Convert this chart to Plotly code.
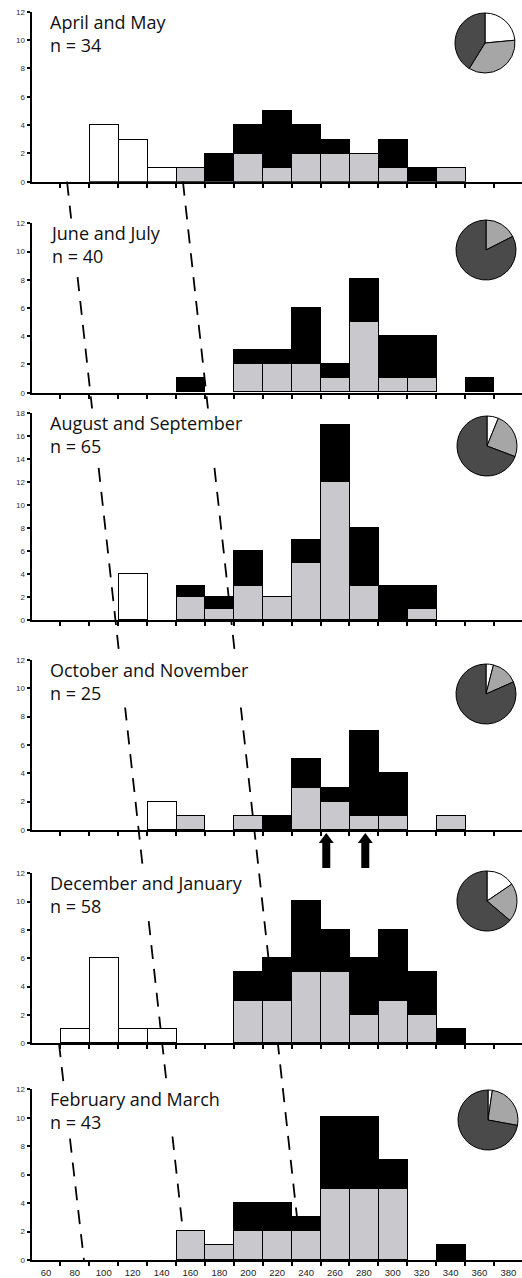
import plotly.graph_objects as go

W, H = 522, 1278

# Body-length classes (bin centres) and bin edges
bins = list(range(60, 381, 20))
edges = list(range(70, 371, 20))

titles = ["April and May", "June and July", "August and September",
          "October and November", "December and January", "February and March"]
n_obs = [34, 40, 65, 25, 58, 43]

#             60 80 100 120 140 160 180 200 220 240 260 280 300 320 340 360 380
white_am = [0, 0, 4, 3, 1, 0, 0, 0, 0, 0, 0, 0, 0, 0, 0, 0, 0]
grey_am  = [0, 0, 0, 0, 0, 1, 0, 2, 1, 2, 2, 2, 1, 0, 1, 0, 0]
black_am = [0, 0, 0, 0, 0, 0, 2, 2, 4, 2, 1, 0, 2, 1, 0, 0, 0]

white_jj = [0, 0, 0, 0, 0, 0, 0, 0, 0, 0, 0, 0, 0, 0, 0, 0, 0]
grey_jj  = [0, 0, 0, 0, 0, 0, 0, 2, 2, 2, 1, 5, 1, 1, 0, 0, 0]
black_jj = [0, 0, 0, 0, 0, 1, 0, 1, 1, 4, 1, 3, 3, 3, 0, 1, 0]

white_as = [0, 0, 0, 4, 0, 0, 0, 0, 0, 0, 0, 0, 0, 0, 0, 0, 0]
grey_as  = [0, 0, 0, 0, 0, 2, 1, 3, 2, 5, 12, 3, 0, 1, 0, 0, 0]
black_as = [0, 0, 0, 0, 0, 1, 1, 3, 0, 2, 5, 5, 3, 2, 0, 0, 0]

white_on = [0, 0, 0, 0, 2, 0, 0, 0, 0, 0, 0, 0, 0, 0, 0, 0, 0]
grey_on  = [0, 0, 0, 0, 0, 1, 0, 1, 0, 3, 2, 1, 1, 0, 1, 0, 0]
black_on = [0, 0, 0, 0, 0, 0, 0, 0, 1, 2, 1, 6, 3, 0, 0, 0, 0]

white_dj = [0, 1, 6, 1, 1, 0, 0, 0, 0, 0, 0, 0, 0, 0, 0, 0, 0]
grey_dj  = [0, 0, 0, 0, 0, 0, 0, 3, 3, 5, 5, 2, 3, 2, 0, 0, 0]
black_dj = [0, 0, 0, 0, 0, 0, 0, 2, 3, 5, 3, 4, 5, 3, 1, 0, 0]

white_fm = [0, 0, 0, 0, 0, 0, 0, 0, 0, 0, 0, 0, 0, 0, 0, 0, 0]
grey_fm  = [0, 0, 0, 0, 0, 2, 1, 2, 2, 2, 5, 5, 5, 0, 0, 0, 0]
black_fm = [0, 0, 0, 0, 0, 0, 0, 2, 2, 1, 5, 5, 2, 0, 1, 0, 0]

white = [white_am, white_jj, white_as, white_on, white_dj, white_fm]
grey = [grey_am, grey_jj, grey_as, grey_on, grey_dj, grey_fm]
black = [black_am, black_jj, black_as, black_on, black_dj, black_fm]

# Pie composition per period: white, grey, dark
pie_am = [8, 12, 14]
pie_jj = [0, 7, 33]
pie_as = [4, 16, 45]
pie_on = [1, 3.6, 20.4]
pie_dj = [9, 12, 37]
pie_fm = [1, 11, 31]
pies = [pie_am, pie_jj, pie_as, pie_on, pie_dj, pie_fm]

y_max = [12, 12, 18, 12, 12, 12]

# Cohort progression lines: (panel, length, count) -> (panel, length, count)
cohort_lines = [
    ((0, 74.6, 0), (5, 157.0, 0)),
    ((0, 154.8, 0), (5, 237.0, 0)),
    ((4, 69.0, 0), (5, 86.3, 0)),
]

# Length markers under the October/November histogram
arrow_x = [254, 281]

# ---- layout geometry (pixels from top) ----
panel_px = [(11.7, 181.7), (223.3, 392.7), (413.3, 620.3),
            (660.0, 830.0), (873.3, 1043.3), (1089.3, 1260.0)]
pie_px = [(485, 43), (486, 250), (487, 446), (486, 694), (487, 901), (488, 1120)]
PIE_D = 60
X0 = 31.5
PX_PER_BIN = 28.9
x_max = 50 + (W - X0) / PX_PER_BIN * 20

GREY = "#c8c8cd"
PIE_COLORS = ["#ffffff", "#a6a6a6", "#4a4a4a"]


def domain(i):
    top, bot = panel_px[i]
    return [(H - bot) / H, (H - top) / H]


def ypaper(i, v):
    lo, hi = domain(i)
    return lo + (hi - lo) * v / y_max[i]


fig = go.Figure()
layout = {}

for i in range(6):
    xa = "x" if i == 0 else f"x{i + 1}"
    ya = "y" if i == 0 else f"y{i + 1}"
    for vals, color in ((white[i], "#ffffff"), (grey[i], GREY), (black[i], "#000000")):
        fig.add_trace(go.Bar(
            x=bins, y=[v if v else None for v in vals], width=20,
            marker=dict(color=color, line=dict(color="black", width=1)),
            xaxis=xa, yaxis=ya, showlegend=False, hoverinfo="skip"))

    layout["xaxis" if i == 0 else f"xaxis{i + 1}"] = dict(
        domain=[X0 / W, 1], range=[50, x_max], anchor=ya,
        showline=True, linecolor="black", linewidth=2,
        showgrid=False, zeroline=False, fixedrange=True, automargin=False,
        tickmode="array", tickvals=bins, ticktext=[str(b) for b in bins],
        ticks="", showticklabels=(i == 5), ticklabelstandoff=3,
        tickfont=dict(family="Arial, Liberation Sans", size=9.5, color="#222"),
        minor=dict(tickmode="array", tickvals=edges, ticks="outside",
                   ticklen=4, tickwidth=1.5, tickcolor="black"))
    layout["yaxis" if i == 0 else f"yaxis{i + 1}"] = dict(
        domain=domain(i), range=[0, y_max[i]], anchor=xa,
        showline=True, linecolor="black", linewidth=2,
        showgrid=False, zeroline=False, fixedrange=True, automargin=False,
        tickmode="array", tickvals=list(range(0, y_max[i] + 1, 2)),
        ticks="outside", ticklen=3, tickwidth=1.5, tickcolor="black",
        tickfont=dict(family="Arial, Liberation Sans", size=8, color="#333"))

    cx, cy = pie_px[i]
    r = PIE_D / 2
    fig.add_trace(go.Pie(
        values=pies[i], marker=dict(colors=PIE_COLORS, line=dict(color="black", width=1)),
        domain=dict(x=[(cx - r) / W, (cx + r) / W], y=[(H - cy - r) / H, (H - cy + r) / H]),
        sort=False, direction="clockwise", rotation=0,
        textinfo="none", hoverinfo="skip", showlegend=False))

    fig.add_annotation(
        xref="paper", yref="paper", x=47 / W, y=domain(i)[1],
        xanchor="left", yanchor="top", align="left", showarrow=False,
        yshift=5,
        text=f"{titles[i]}<br>n = {n_obs[i]}",
        font=dict(family="Open Sans", size=18, color="#111"),
        bgcolor="white", borderpad=2)

for (p0, xv0, yv0), (p1, xv1, yv1) in cohort_lines:
    fig.add_shape(type="line", xref="x", yref="paper",
                  x0=xv0, y0=ypaper(p0, yv0), x1=xv1, y1=ypaper(p1, yv1),
                  line=dict(color="black", width=1.8, dash="14px,10px"),
                  layer="below")

for xv in arrow_x:
    fig.add_shape(type="path", xref="x4", yref="paper",
                  xsizemode="pixel", ysizemode="pixel",
                  xanchor=xv, yanchor=ypaper(3, 0),
                  path="M0,-3 L7.5,-13 L4,-13 L4,-38 L-4,-38 L-4,-13 L-7.5,-13 Z",
                  fillcolor="black", line=dict(width=0), layer="above")

fig.update_layout(
    width=W, height=H, margin=dict(l=0, r=0, t=0, b=0),
    barmode="stack", bargap=0,
    paper_bgcolor="white", plot_bgcolor="rgba(0,0,0,0)",
    **layout)

fig.write_html("out.html", config={"displayModeBar": False})
